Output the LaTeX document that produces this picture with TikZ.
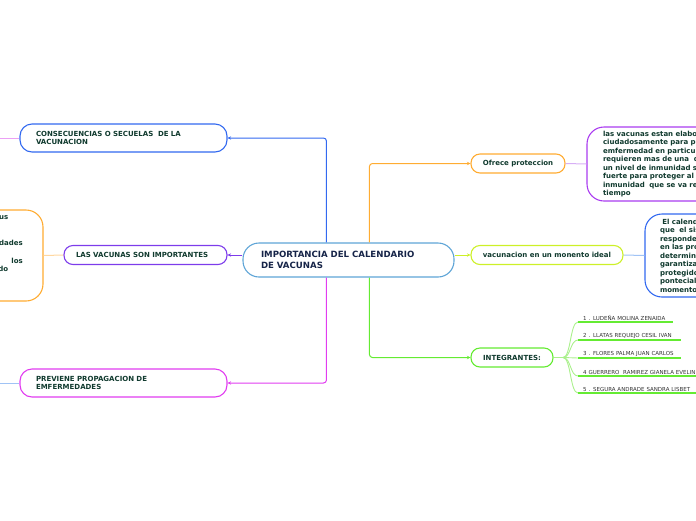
\documentclass[tikz,border=0pt]{standalone}
\usepackage{fontspec}
\setmainfont{DejaVu Sans}
\usetikzlibrary{arrows.meta}
\definecolor{txt}{RGB}{16,58,46}
\definecolor{navy}{RGB}{22,36,72}
\definecolor{cctr}{RGB}{95,165,215}
\definecolor{cblue}{RGB}{50,105,240}
\definecolor{corange}{RGB}{255,172,50}
\definecolor{cpurple}{RGB}{125,60,235}
\definecolor{cviolet}{RGB}{170,60,240}
\definecolor{clime}{RGB}{205,240,40}
\definecolor{cmag}{RGB}{225,60,240}
\definecolor{cgreen}{RGB}{100,235,50}
\definecolor{lgreen}{RGB}{170,240,140}
\definecolor{lpurple}{RGB}{215,175,245}
\definecolor{lblue}{RGB}{160,195,245}
\definecolor{lorange}{RGB}{255,215,160}
\definecolor{lmag}{RGB}{235,160,245}
\definecolor{itemtxt}{RGB}{50,50,50}
\tikzset{
  lbl/.style={draw, fill=white, line width=1.1pt, text=txt, inner ysep=0pt,
    font=\fontsize{7}{8.5}\selectfont\bfseries},
  pill/.style={lbl, rounded corners=9pt, minimum height=19pt, align=center},
  pill2/.style={lbl, rounded corners=12pt, minimum height=28pt, align=left, text width=175pt, inner xsep=16pt},
  detail/.style={lbl, rounded corners=17pt, minimum width=250pt, align=left, text width=218pt, inner xsep=16pt},
  conn/.style={line width=1pt, rounded corners=3pt, -{Stealth[length=3.5pt,width=3.5pt]}},
  sub/.style={line width=1pt},
  item/.style={anchor=south west, inner xsep=5pt, inner ysep=1.5pt, align=left, text=itemtxt,
    font=\fontsize{5.5}{6}\selectfont},
  uline/.style={draw=cgreen, line width=1.5pt},
  fan/.style={draw=lgreen, line width=0.9pt}
}
\begin{document}
\begin{tikzpicture}[x=1pt,y=-1pt]
\useasboundingbox (0,0) rectangle (696,520);
\clip (0,0) rectangle (696,520);

% center
\node[lbl, draw=cctr, rounded corners=16pt, minimum height=34pt, text width=175pt, inner xsep=18pt,
  align=left, text=navy, font=\fontsize{8.6}{10.5}\selectfont\bfseries] (c) at (348.5,260)
  {IMPORTANCIA DEL CALENDARIO\\DE VACUNAS};

% left nodes
\node[pill2, draw=cblue] (cons) at (123.5,138) {CONSECUENCIAS O SECUELAS\ \ DE LA\\VACUNACION};
\node[pill, draw=cpurple, text width=139pt, inner xsep=12pt, align=left] (vac) at (145.5,255) {LAS VACUNAS SON IMPORTANTES};
\node[pill2, draw=cmag] (prev) at (123.5,383) {PREVIENE PROPAGACION DE\\EMFERMEDADES};

% right nodes
\node[pill, draw=corange, minimum width=94pt] (ofr) at (518,163.5) {Ofrece proteccion};
\node[pill, draw=clime, minimum width=152pt] (mom) at (547,255) {vacunacion en un monento ideal};
\node[pill, draw=cgreen, minimum width=82pt] (integ) at (512,357.5) {INTEGRANTES:};

% detail nodes
\node[detail, draw=cviolet, minimum height=74pt] (d1) at (712,164)
 {las vacunas estan elaboradas\\
  ciudadosamente para proteger de una\\
  emfermedad en particular, algunas\\
  requieren mas de una\ \ dosis para crear\\
  un nivel de inmunidad suficientemente\\
  fuerte para proteger al bebé de la\\
  inmunidad\ \ que se va reduciendo con el\\
  tiempo};
\node[detail, draw=cblue, minimum height=83pt, inner xsep=15pt, text width=220pt] (d2) at (770,255.5)
 {\ El calendario de vacunas\\
  que\ \ el sistema de salud\\
  responde a las necesidades\\
  en las provincias y en\\
  determinadas edades para\\
  garantizar que los niños\\
  protegidos frente a las\\
  ponteciales enfermedades en el\\
  momento adecuado};
\node[detail, draw=corange, minimum height=91pt] (d3) at (-82,255.5) {};
\begin{scope}[every node/.style={anchor=base east, inner sep=0pt, text=txt, font=\fontsize{7}{8.5}\selectfont\bfseries}]
\node (t1) at (8.5,219.5) {virus};
\node (t2) at (23,245.5) {enfermedades};
\node (t3) at (23,263) {los};
\node (t4) at (8.5,271.5) {cuidado};
\end{scope}

\coordinate (offa) at (0,138);
\coordinate (offb) at (0,383);

% main connectors
\draw[conn, draw=cblue] ([xshift=84pt]c.north west) |- (cons.east);
\draw[conn, draw=corange] ([xshift=127pt]c.north west) |- (ofr.west);
\draw[conn, draw=cmag] ([xshift=84pt]c.south west) |- (prev.east);
\draw[conn, draw=cgreen] ([xshift=127pt]c.south west) |- (integ.west);
\draw[conn, draw=cpurple] ([yshift=5pt]c.west) -- (vac.east);
\draw[conn, draw=clime] ([yshift=5pt]c.east) -- (mom.west);

% secondary connectors
\draw[sub, draw=lpurple] (ofr.east) -- (d1.west);
\draw[sub, draw=lblue] (mom.east) -- (d2.west);
\draw[sub, draw=lorange] (vac.west) -- (d3.east);
\draw[sub, draw=lmag] (cons.west) -- (offa);
\draw[sub, draw=lblue] (prev.west) -- (offb);

% integrantes
\node[item, minimum width=95pt, text width=85pt] (i1) at (578,322) {1 . LUDEÑA MOLINA ZENAIDA};
\node[item, minimum width=103pt, text width=93pt] (i2) at (578,340) {2 . LLATAS REQUEJO CESIL IVAN};
\node[item, minimum width=103pt, text width=93pt] (i3) at (578,358) {3 . FLORES PALMA JUAN CARLOS};
\node[item, minimum width=130pt, text width=120pt] (i4) at (578,376) {4 GUERRERO\ \ RAMIREZ GIANELA EVELIN};
\node[item, minimum width=130pt, text width=120pt] (i5) at (578,393) {5 . SEGURA ANDRADE SANDRA LISBET};
\coordinate (fk) at (563,357.5);
\draw[fan] (integ.east) -- (fk);
\foreach \i in {i1,i2,i3,i4,i5}{
  \draw[fan] (fk) .. controls +(8,0) and +(-8,0) .. (\i.south west);
  \draw[uline] (\i.south west) -- (\i.south east);
}
\end{tikzpicture}
\end{document}
